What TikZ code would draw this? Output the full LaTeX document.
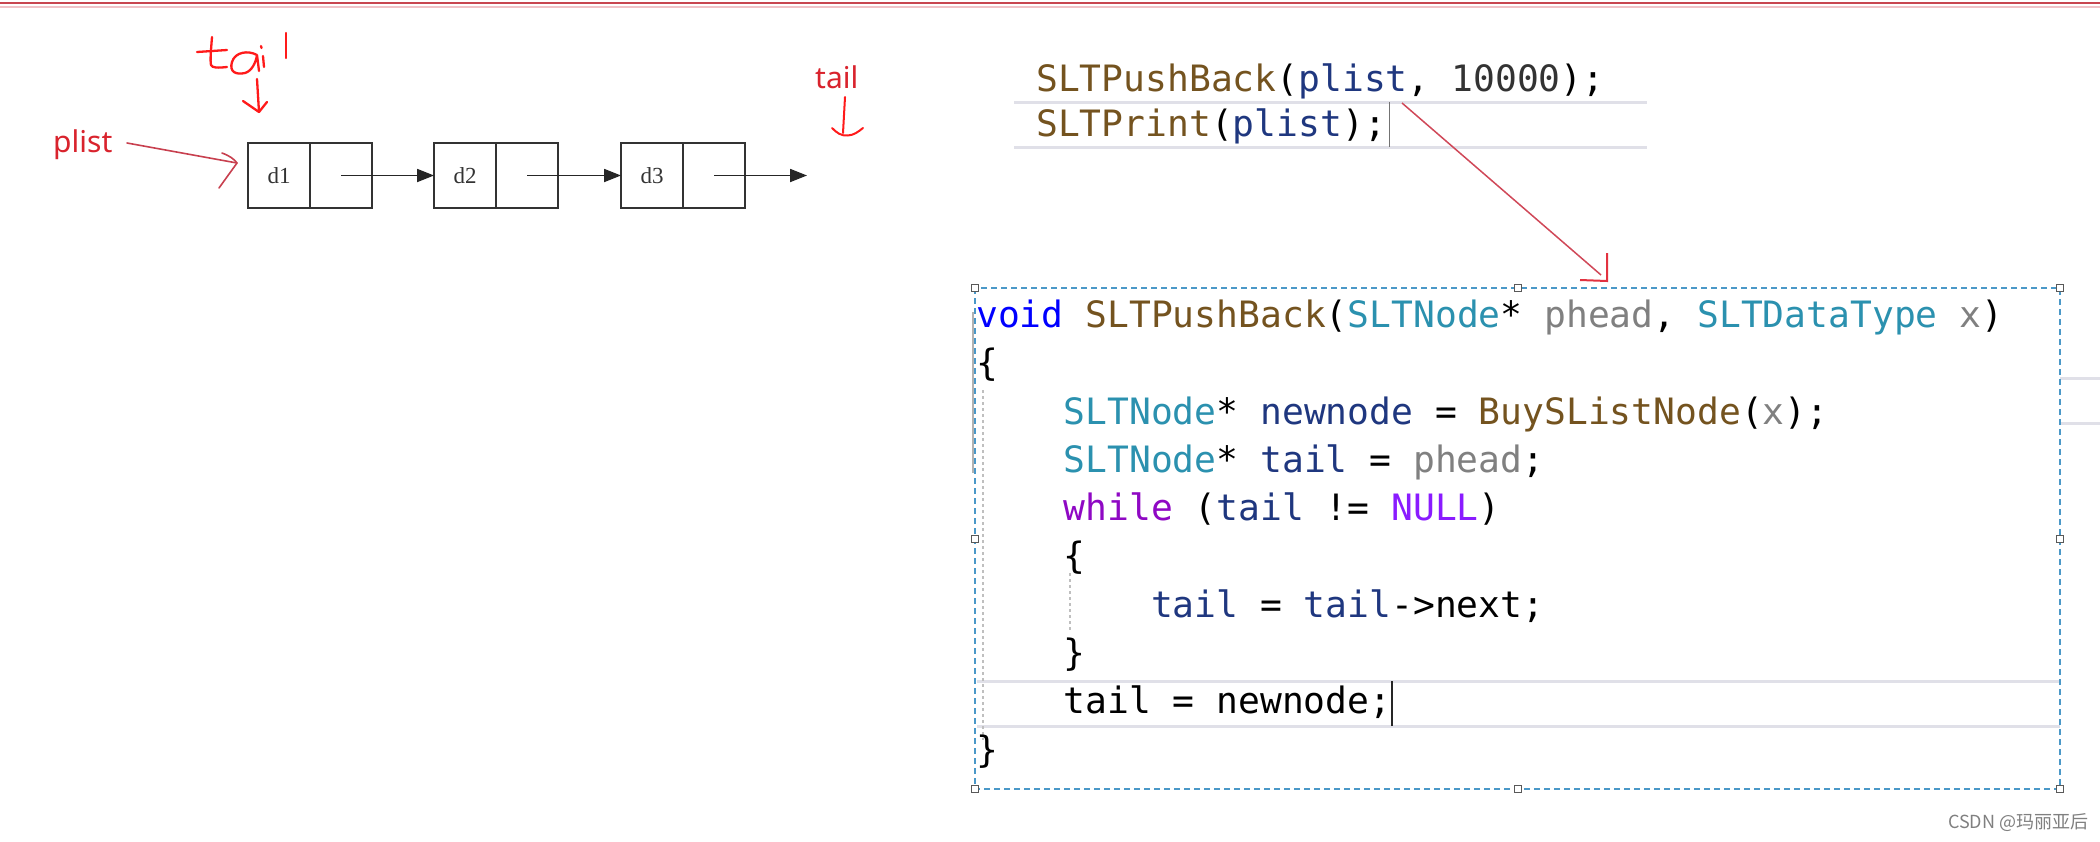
\documentclass[tikz,border=0pt]{standalone}
\usepackage{fontspec}
\usetikzlibrary{arrows.meta}
\newfontfamily\codefont{DejaVu Sans Mono}
\newfontfamily\notefont{Noto Sans}
\newfontfamily\cjkfont{Noto Sans CJK SC}
\newfontfamily\cellfont{Liberation Serif}
\definecolor{ckw}{HTML}{0000FF}
\definecolor{cfn}{HTML}{74531F}
\definecolor{cty}{HTML}{2B91AF}
\definecolor{cpa}{HTML}{808080}
\definecolor{clo}{HTML}{1F377F}
\definecolor{cct}{HTML}{8F08C4}
\definecolor{cmc}{HTML}{8A1BFF}
\definecolor{penred}{HTML}{FF1A1A}
\definecolor{notered}{HTML}{D9232D}
\definecolor{linkred}{HTML}{C8404F}
\definecolor{selblue}{HTML}{4A98C8}
\definecolor{hilite}{HTML}{E0E0E8}
\newcommand\cKw[1]{\textcolor{ckw}{#1}}
\newcommand\cFn[1]{\textcolor{cfn}{#1}}
\newcommand\cTy[1]{\textcolor{cty}{#1}}
\newcommand\cPa[1]{\textcolor{cpa}{#1}}
\newcommand\cLo[1]{\textcolor{clo}{#1}}
\newcommand\cCt[1]{\textcolor{cct}{#1}}
\newcommand\cMc[1]{\textcolor{cmc}{#1}}
\begin{document}
\begin{tikzpicture}[x=1pt,y=-1pt,
  code/.style={anchor=base west, inner sep=0pt, text=black, font=\codefont\fontsize{36.3}{40}\selectfont},
  cell/.style={draw=black!80, line width=2pt, minimum width=62pt, minimum height=65pt, inner sep=0pt, outer sep=0pt, text=black!80, font=\cellfont\fontsize{23}{25}\selectfont},
  link/.style={line width=1.8pt, draw=black!85, -{Triangle[length=17pt,width=13pt]}},
  pen/.style={draw=penred, line width=2.3pt, line cap=round, line join=round},
  note/.style={anchor=base west, inner sep=0pt, text=notered, font=\notefont\fontsize{30}{32}\selectfont},
  handle/.style={draw=black!65, fill=white, line width=1pt, minimum size=7pt, inner sep=0pt},
  hl/.style={draw=hilite, line width=3pt},
  guide/.style={draw=black!25, line width=1.2pt, dash pattern=on 3pt off 3pt},
  selbox/.style={draw=selblue, line width=2pt, dash pattern=on 6pt off 4pt}
]
\path[use as bounding box] (0,0) rectangle (2100,841);
\fill[white] (0,0) rectangle (2100,841);

% top border lines
\draw[draw={rgb,255:red,200;green,70;blue,80}, line width=2.5pt] (0,3) -- (2100,3);
\draw[draw={rgb,255:red,240;green,195;blue,200}, line width=1.5pt] (0,7) -- (2100,7);

% linked list
\node[cell] (d1) at (279,175.5) {d1};
\node[cell] (p1) at (341,175.5) {};
\node[cell] (d2) at (465,175.5) {d2};
\node[cell] (p2) at (527,175.5) {};
\node[cell] (d3) at (652,175.5) {d3};
\node[cell] (p3) at (714,175.5) {};
\coordinate (nil) at (807,175.5);
\draw[link] (p1.center) -- (d2.west);
\draw[link] (p2.center) -- (d3.west);
\draw[link] (p3.center) -- (nil);

% plist label and arrow
\node[note] (plist) at (53,152) {plist};
\coordinate (pa) at (127,143);
\coordinate (pb) at (237,163);
\draw[draw=linkred, line width=1.6pt, line cap=round] (pa) -- (pb);
\draw[draw=linkred, line width=1.6pt, line cap=round, line join=round]
  (222,153) .. controls (230,156) and (234,159) .. (pb) -- (219,188);

% handwritten tail (top left)
\draw[pen] (197,52) -- (227,50);
\draw[pen] (212,37) .. controls (211,50) and (210,60) .. (211,65) .. controls (212,68) and (218,68) .. (227,67);
\draw[pen] (257,55) .. controls (248,50) and (235,52) .. (232,62) .. controls (229,72) and (236,75) .. (245,73) .. controls (252,71) and (256,62) .. (257,55) -- (259,71);
\draw[pen] (263,56) -- (264,67);
\draw[pen] (261,46) -- (261.5,48);
\draw[pen] (286,33) -- (286,58);
\coordinate (ta1) at (257,79);
\coordinate (ta2) at (259,112);
\draw[pen] (ta1) -- (ta2);
\draw[pen] (243,101) -- (ta2) -- (267,102);

% typed tail (top right of list)
\node[note] (tailr) at (815,88) {tail};
\coordinate (tb1) at (845,97);
\coordinate (tb2) at (843,133);
\draw[pen, line width=2pt] (tb1) -- (tb2);
\draw[pen, line width=2pt] (832,128) .. controls (837,133) and (841,136) .. (848,135.5) .. controls (854,135) and (858,132) .. (863,128);

% top code snippet
\draw[hl] (1014,102) -- (1647,102);
\draw[hl] (1014,147) -- (1647,147);
\node[code] (c1) at (1036,91) {\cFn{SLTPushBack}(\cLo{plist}, \textcolor{black!80}{10000});};
\node[code] (c2) at (1036,136) {\cFn{SLTPrint}(\cLo{plist});};
\draw[draw=black!55, line width=1pt] (1389,102) -- (1389,147);

% red connector from call to definition
\coordinate (ra) at (1402,103);
\coordinate (rb) at (1601,275);
\coordinate (rc) at (1607,281);
\draw[draw={rgb,255:red,208;green,72;blue,88}, line width=1.5pt] (ra) -- (rb);
\draw[draw={rgb,255:red,226;green,50;blue,64}, line width=2pt] (1607,253) -- (rc) -- (1580,280);

% editor highlights and guides
\draw[hl] (977,681) -- (2060,681);
\draw[hl] (977,726) -- (2060,726);
\draw[hl] (2060,378) -- (2100,378);
\draw[hl] (2060,423) -- (2100,423);
\draw[draw=black!30, line width=1.5pt] (973,312) -- (973,473);
\draw[guide] (983,390) -- (983,740);
\draw[guide] (1070,573) -- (1070,632);

% function code
\node[code] (l1) at (976,327) {\cKw{void} \cFn{SLTPushBack}(\cTy{SLTNode}* \cPa{phead}, \cTy{SLTDataType} \cPa{x})};
\node[code] (l2) at (976,375.5) {\{};
\node[code] (l3) at (1063.4,424) {\cTy{SLTNode}* \cLo{newnode} = \cFn{BuySListNode}(\cPa{x});};
\node[code] (l4) at (1063.4,472) {\cTy{SLTNode}* \cLo{tail} = \cPa{phead};};
\node[code] (l5) at (1063.4,520) {\cCt{while} (\cLo{tail} != \cMc{NULL})};
\node[code] (l6) at (1063.4,568) {\{};
\node[code] (l7) at (1150.8,617) {\cLo{tail} = \cLo{tail}->next;};
\node[code] (l8) at (1063.4,665) {\}};
\node[code] (l9) at (1063.4,713) {tail = newnode;};
\node[code] (l10) at (976,762) {\}};
\draw[draw=black!85, line width=1.5pt] (1392,681) -- (1392,726);

% selection box with handles
\draw[selbox] (975,288) rectangle (2060,789);
\foreach \hx/\hy/\hn in {975/288/h1, 1517.5/288/h2, 2060/288/h3, 975/538.5/h4, 2060/538.5/h5, 975/789/h6, 1517.5/789/h7, 2060/789/h8}
  \node[handle] (\hn) at (\hx,\hy) {};

% watermark
\node[anchor=base west, inner sep=0pt, text=black!50, font=\cjkfont\fontsize{18}{20}\selectfont] (csdn) at (1948,828) {CSDN @玛丽亚后};
\end{tikzpicture}
\end{document}
